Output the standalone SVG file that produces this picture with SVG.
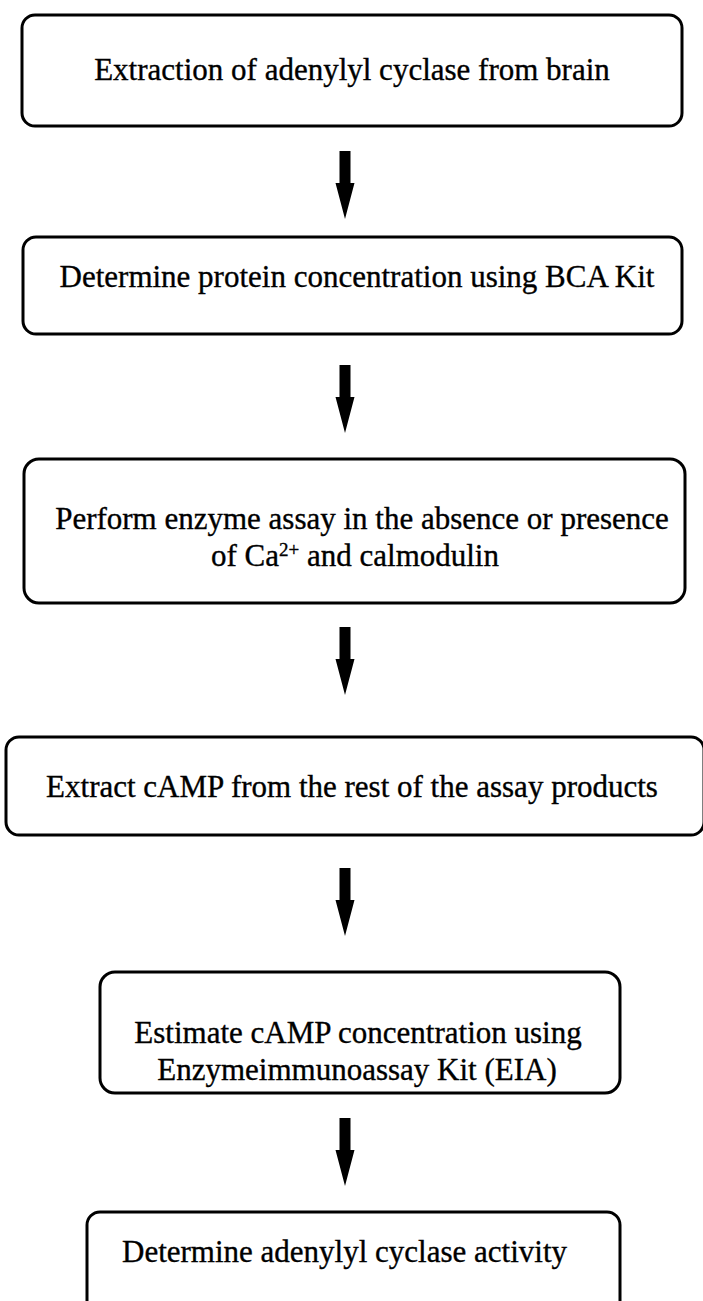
<svg xmlns="http://www.w3.org/2000/svg" width="703" height="1301" viewBox="0 0 703 1301">
<style>
.box{fill:#fff;stroke:#000;stroke-width:3}
.t{font-family:"Liberation Serif","Times New Roman",serif;font-size:31px;fill:#000;stroke:#000;stroke-width:0.35;text-anchor:middle}
.arr{fill:#000}
</style>
<defs>
<path id="arrow" d="M-5.5,0 H5.5 V32 H9.5 L0,68 L-9.5,32 H-5.5 Z"/>
</defs>
<rect width="703" height="1301" fill="#fff"/>
<g id="connectors">
<use href="#arrow" class="arr" x="345" y="151"/>
<use href="#arrow" class="arr" x="345" y="365"/>
<use href="#arrow" class="arr" x="345" y="627"/>
<use href="#arrow" class="arr" x="345" y="868"/>
<use href="#arrow" class="arr" x="345" y="1118"/>
</g>
<g id="node1">
<rect class="box" x="22" y="15" width="660" height="111" rx="13"/>
<text class="t" x="352" y="80">Extraction of adenylyl cyclase from brain</text>
</g>
<g id="node2">
<rect class="box" x="23" y="237" width="659" height="97" rx="13"/>
<text class="t" x="357" y="287">Determine protein concentration using BCA Kit</text>
</g>
<g id="node3">
<rect class="box" x="24" y="459" width="661" height="144" rx="15"/>
<text class="t" x="362" y="529">Perform enzyme assay in the absence or presence</text>
<text class="t" x="355" y="566">of Ca<tspan font-size="19" dy="-10">2+</tspan><tspan dy="10"> and calmodulin</tspan></text>
</g>
<g id="node4">
<rect class="box" x="6" y="737" width="698" height="98" rx="13"/>
<text class="t" x="352" y="797">Extract cAMP from the rest of the assay products</text>
</g>
<g id="node5">
<rect class="box" x="100" y="972" width="520" height="121" rx="15"/>
<text class="t" x="358" y="1043">Estimate cAMP concentration using</text>
<text class="t" x="357" y="1080">Enzymeimmunoassay Kit (EIA)</text>
</g>
<g id="node6">
<rect class="box" x="87" y="1212" width="533" height="110" rx="13"/>
<text class="t" x="122" y="1262" font-size="30" style="text-anchor:start">Determine adenylyl cyclase activity</text>
</g>
</svg>
